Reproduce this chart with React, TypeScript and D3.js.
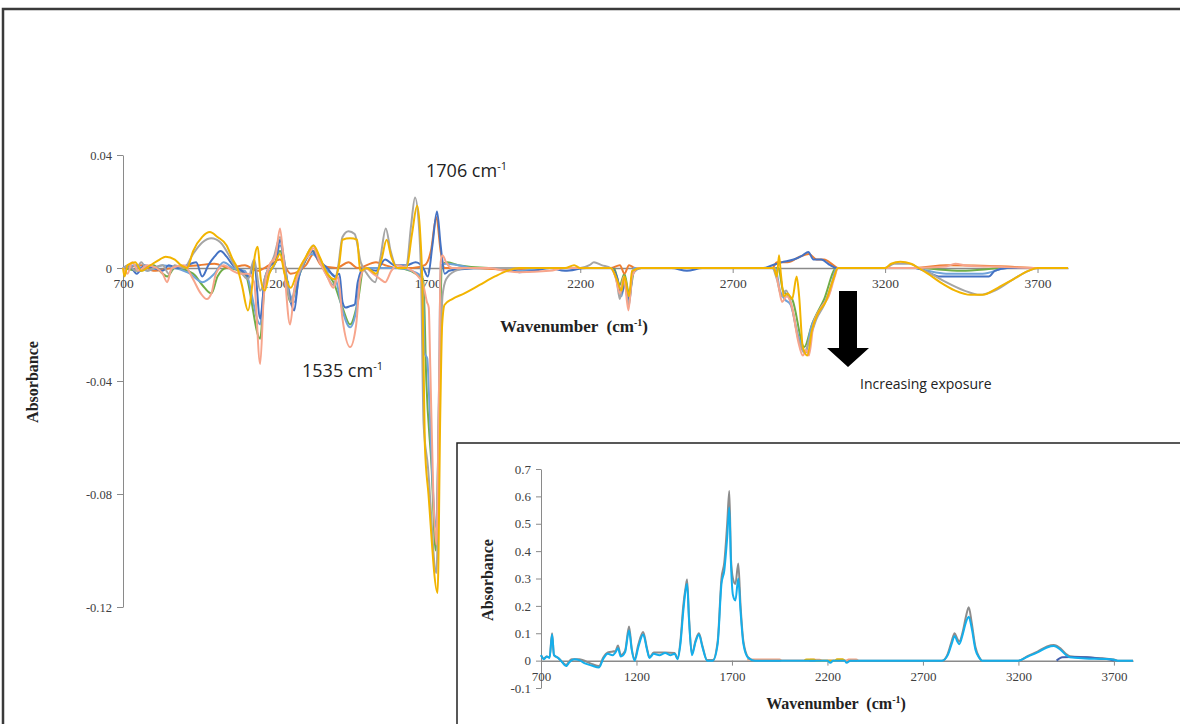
import React, { useEffect, useRef } from 'react';
import * as d3 from 'd3';

type Pt = [number, number];

// difference spectra (main panel), [wavenumber, absorbance]
const greySeries: Pt[] = [
  [700, 0], [720, 0.001], [740, -0.001], [760, 0.002], [780, -0.001], [800, 0], [830, 0.001], [850, -0.002], [870, 0.001],
  [900, 0], [930, 0.005], [960, 0.009], [990, 0.0105], [1020, 0.009], [1050, 0.004], [1070, 0], [1090, -0.002], [1110, -0.004],
  [1130, 0.003], [1150, -0.008], [1170, -0.002], [1195, 0.004], [1215, 0.011], [1230, 0.002], [1250, -0.012], [1270, -0.004],
  [1290, 0.001], [1310, 0.006], [1325, 0.008], [1345, 0.003], [1370, -0.003], [1390, -0.006], [1405, 0], [1420, 0.011],
  [1440, 0.013], [1460, 0.012], [1480, 0.002], [1500, -0.002], [1527, -0.005], [1545, 0.004], [1562, 0.014], [1578, 0.006],
  [1600, 0], [1630, 0.001], [1645, 0.015], [1658, 0.025], [1670, 0.016], [1678, -0.004], [1686, -0.055], [1700, -0.07],
  [1728, -0.108], [1740, -0.04], [1748, -0.01], [1760, -0.004], [1790, -0.001], [1830, 0], [2200, 0],
  [2230, 0.001], [2245, 0.002], [2270, 0.001], [2300, 0], [2320, -0.005], [2330, -0.011], [2342, -0.004], [2360, -0.013],
  [2372, -0.002], [2400, 0], [2830, 0], [2845, -0.004], [2860, -0.01], [2875, -0.008], [2890, -0.012], [2915, -0.025],
  [2935, -0.03], [2950, -0.026], [2975, -0.018], [3000, -0.013], [3030, -0.004], [3045, 0], [3200, 0], [3230, 0.0015],
  [3280, 0.0015], [3310, 0], [3350, -0.002], [3400, -0.005], [3460, -0.008], [3510, -0.0095], [3560, -0.008], [3620, -0.004],
  [3670, -0.001], [3700, 0], [3800, 0],
];

const goldSeries: Pt[] = [
  [700, 0], [705, -0.003], [715, 0.001], [740, 0.002], [760, -0.001], [790, 0.001], [820, 0.003], [840, 0.004], [870, 0.003],
  [890, 0.001], [910, 0], [930, 0.006], [960, 0.011], [985, 0.0127], [1010, 0.011], [1040, 0.008], [1060, 0.003], [1075, 0],
  [1090, -0.006], [1110, -0.015], [1122, -0.008], [1132, 0.004], [1142, 0.0075], [1152, -0.004], [1165, -0.008], [1180, -0.002],
  [1200, 0.002], [1215, 0.005], [1230, -0.002], [1250, -0.007], [1270, -0.002], [1300, 0.004], [1325, 0.008], [1345, 0.004],
  [1370, -0.002], [1395, -0.004], [1410, 0.002], [1420, 0.01], [1445, 0.0105], [1468, 0.01], [1478, -0.001], [1500, 0],
  [1530, -0.002], [1548, 0.003], [1565, 0.01], [1580, 0.004], [1600, 0], [1630, 0], [1648, 0.012], [1665, 0.022], [1675, 0.012],
  [1683, -0.01], [1690, -0.062], [1702, -0.08], [1732, -0.115], [1741, -0.05], [1747, -0.02], [1755, -0.013], [1780, -0.011],
  [1820, -0.009], [1870, -0.006], [1920, -0.003], [1960, -0.001], [2000, 0], [2150, 0], [2180, 0.001], [2200, 0], [2300, 0],
  [2320, -0.004], [2335, -0.008], [2345, -0.003], [2360, -0.01], [2370, -0.001], [2400, 0], [2835, 0], [2845, -0.003],
  [2852, 0.0045], [2858, -0.002], [2868, -0.01], [2880, -0.009], [2895, -0.011], [2910, -0.003], [2918, -0.01], [2930, -0.028],
  [2945, -0.031], [2960, -0.022], [2980, -0.016], [3005, -0.012], [3030, -0.004], [3045, 0], [3200, 0], [3220, 0.0015],
  [3250, 0.0022], [3285, 0.0015], [3310, 0], [3340, -0.002], [3380, -0.005], [3430, -0.008], [3480, -0.0095], [3520, -0.0095],
  [3570, -0.007], [3620, -0.004], [3670, -0.001], [3700, 0], [3800, 0],
];

const blueSeries: Pt[] = [
  [700, 0], [720, 0.001], [745, -0.002], [770, 0.001], [800, 0], [830, -0.001], [850, 0.001], [880, 0], [910, 0.001],
  [940, 0.002], [960, -0.003], [980, 0.001], [1000, 0.004], [1020, 0.006], [1040, 0.004], [1060, 0.001], [1090, -0.001],
  [1115, -0.003], [1130, 0.002], [1150, -0.018], [1165, -0.004], [1185, 0.001], [1200, 0.002], [1215, 0.01], [1230, 0.001],
  [1250, -0.012], [1262, -0.015], [1275, -0.004], [1295, 0.002], [1320, 0.006], [1340, 0.003], [1370, 0], [1395, -0.003],
  [1410, -0.002], [1420, -0.012], [1430, -0.014], [1445, -0.0135], [1460, -0.013], [1470, -0.005], [1490, 0], [1530, -0.001],
  [1560, 0.003], [1590, 0.001], [1630, 0.001], [1660, 0.002], [1685, 0], [1700, -0.003], [1715, 0.008], [1730, 0.02],
  [1742, 0.008], [1755, -0.002], [1770, -0.001], [1800, -0.0005], [1900, 0], [1960, 0], [2000, -0.0015], [2050, -0.001],
  [2100, 0], [2150, -0.001], [2220, 0], [2300, 0], [2320, -0.003], [2335, -0.009], [2348, -0.005], [2360, -0.011],
  [2372, -0.002], [2400, 0], [2500, 0], [2550, -0.001], [2600, 0], [2800, 0], [2830, 0.001], [2860, 0.002], [2900, 0.003],
  [2930, 0.0045], [2948, 0.0057], [2965, 0.003], [2990, 0.003], [3020, 0.001], [3040, 0], [3300, 0], [3330, -0.001],
  [3380, -0.003], [3450, -0.003], [3540, -0.003], [3560, -0.001], [3600, 0], [3800, 0],
];

const orangeSeries: Pt[] = [
  [700, 0], [760, 0.001], [800, -0.001], [860, 0], [950, 0.001], [1000, 0.0015], [1050, 0], [1100, 0.001], [1140, -0.001],
  [1180, 0.001], [1215, 0.003], [1250, -0.002], [1300, 0.001], [1325, 0.005], [1350, 0.001], [1400, 0], [1440, 0.002],
  [1470, 0], [1530, 0.002], [1560, 0.001], [1600, 0], [1650, 0], [1690, 0.001], [1710, 0.006], [1728, 0.018], [1742, 0.006],
  [1755, 0], [1850, 0], [1950, -0.0005], [2100, 0], [2300, 0], [2330, 0.001], [2345, -0.002], [2360, 0.001], [2380, 0],
  [2830, 0], [2845, 0.002], [2880, 0.002], [2920, 0.004], [2950, 0.005], [2975, 0.003], [3000, 0.003], [3030, 0.001],
  [3045, 0], [3300, 0], [3400, 0.001], [3600, 0.0005], [3700, 0], [3800, 0],
];

const salmonSeries: Pt[] = [
  [700, 0], [715, -0.002], [730, 0.002], [750, -0.001], [780, 0.001], [810, 0], [830, -0.002], [845, -0.005], [860, 0],
  [900, 0.001], [930, -0.004], [955, -0.009], [975, -0.011], [990, -0.009], [1005, -0.002], [1030, 0.001], [1060, -0.001],
  [1085, -0.002], [1110, -0.002], [1130, -0.005], [1150, -0.034], [1162, -0.01], [1180, 0.001], [1200, 0.004], [1215, 0.014],
  [1228, 0.001], [1248, -0.02], [1262, -0.008], [1285, 0.001], [1305, 0.004], [1325, 0.007], [1345, 0.002], [1370, -0.003],
  [1390, -0.007], [1405, -0.003], [1420, -0.018], [1445, -0.028], [1465, -0.02], [1478, -0.004], [1495, 0], [1520, -0.002],
  [1545, -0.004], [1560, -0.005], [1580, -0.001], [1600, 0.001], [1630, 0], [1660, -0.002], [1685, -0.006], [1697, -0.012],
  [1703, -0.014], [1708, -0.035], [1718, -0.08], [1728, -0.098], [1737, -0.04], [1742, 0.002], [1748, 0.0045], [1760, 0.002],
  [1780, 0], [1900, 0], [1950, -0.001], [2000, -0.0015], [2100, -0.001], [2150, 0], [2300, 0], [2315, -0.003], [2330, -0.009],
  [2343, -0.003], [2358, -0.015], [2370, -0.003], [2390, 0], [2835, 0], [2850, -0.006], [2862, -0.012], [2878, -0.01],
  [2895, -0.014], [2915, -0.026], [2930, -0.031], [2942, -0.029], [2950, -0.031], [2965, -0.02], [2990, -0.014], [3015, -0.01],
  [3035, -0.003], [3045, 0], [3300, 0], [3400, 0.0005], [3430, 0.0015], [3470, 0.0008], [3550, 0.0005], [3700, 0], [3800, 0],
];

const greenSeries: Pt[] = [
  [700, 0], [760, -0.001], [800, 0.001], [830, -0.002], [845, -0.003], [870, 0], [930, -0.002], [960, -0.006], [990, -0.009],
  [1010, -0.003], [1040, 0], [1100, -0.002], [1150, -0.025], [1165, -0.006], [1200, 0.002], [1215, 0.006], [1250, -0.012],
  [1280, -0.002], [1325, 0.006], [1370, -0.002], [1390, -0.005], [1420, -0.014], [1445, -0.02], [1470, -0.012], [1490, 0],
  [1600, 0], [1685, -0.004], [1695, -0.04], [1712, -0.07], [1726, -0.1], [1738, -0.04], [1746, 0.001], [1765, 0.002],
  [1800, 0.001], [1900, 0], [2310, 0], [2330, -0.006], [2345, -0.002], [2360, -0.009], [2380, 0], [2850, 0], [2865, -0.008],
  [2895, -0.011], [2935, -0.028], [2960, -0.02], [3000, -0.011], [3040, 0], [3300, 0], [3450, -0.001], [3600, 0], [3800, 0],
];

const lightBlueSeries: Pt[] = [
  [700, 0], [740, 0.001], [780, -0.001], [830, 0.001], [870, 0], [920, -0.002], [960, -0.005], [1000, -0.002], [1030, 0.002],
  [1060, 0], [1100, -0.001], [1150, -0.02], [1165, -0.004], [1200, 0.002], [1215, 0.008], [1250, -0.01], [1262, -0.012],
  [1280, -0.002], [1320, 0.005], [1370, -0.001], [1395, -0.003], [1420, -0.015], [1445, -0.021], [1465, -0.015], [1480, -0.002],
  [1500, 0], [1600, 0], [1683, -0.003], [1689, -0.03], [1698, -0.032], [1704, -0.045], [1715, -0.075], [1728, -0.092],
  [1737, -0.04], [1742, 0.001], [1760, 0.0015], [1800, 0.001], [1850, 0], [1950, 0], [2000, -0.001], [2100, 0], [2300, 0],
  [2320, -0.004], [2335, -0.01], [2348, -0.004], [2360, -0.012], [2375, 0], [2840, 0], [2855, -0.008], [2870, -0.011],
  [2890, -0.013], [2915, -0.024], [2940, -0.03], [2955, -0.022], [2985, -0.015], [3020, -0.008], [3040, 0], [3300, 0],
  [3340, -0.001], [3400, -0.002], [3520, -0.002], [3600, 0], [3800, 0],
];

// absorbance spectra (inset)
const insetGrey: Pt[] = [
  [700, 0.02], [715, 0.008], [730, 0.015], [745, 0.012], [758, 0.1], [768, 0.02], [790, 0.01], [831, -0.015], [860, 0.005],
  [900, 0.005], [965, -0.012], [1004, -0.02], [1025, 0.01], [1050, 0.03], [1090, 0.035], [1103, 0.055], [1118, 0.02],
  [1140, 0.035], [1161, 0.125], [1175, 0.045], [1190, 0.005], [1210, 0.06], [1235, 0.105], [1255, 0.045], [1268, 0.012],
  [1290, 0.03], [1350, 0.03], [1400, 0.028], [1415, 0.008], [1430, 0.07], [1445, 0.2], [1458, 0.27], [1465, 0.296],
  [1475, 0.16], [1490, 0.025], [1510, 0.075], [1527, 0.1], [1545, 0.055], [1570, 0.002], [1600, 0.002], [1625, 0.07],
  [1645, 0.3], [1660, 0.36], [1675, 0.5], [1686, 0.62], [1695, 0.37], [1705, 0.3], [1718, 0.28], [1733, 0.355],
  [1745, 0.2], [1760, 0.07], [1785, 0.012], [1820, 0], [2800, 0], [2830, 0.025], [2850, 0.07], [2866, 0.1], [2880, 0.08],
  [2890, 0.07], [2910, 0.11], [2925, 0.16], [2940, 0.195], [2955, 0.14], [2975, 0.05], [2995, 0.012], [3010, 0],
  [3200, 0], [3250, 0.017], [3300, 0.033], [3350, 0.052], [3385, 0.057], [3420, 0.045], [3450, 0.024], [3470, 0.016],
  [3550, 0.012], [3650, 0.008], [3700, 0.004], [3720, 0], [3800, 0],
];

const insetOrange: Pt[] = [
  [1780, 0.004], [1800, 0.004], [1950, 0.004], [1960, 0], [2100, 0], [2110, 0.003], [2160, 0.003], [2170, 0],
  [2300, 0], [2310, 0.004], [2350, 0.004], [2360, 0],
];

const insetGold: Pt[] = [
  [2080, 0], [2090, 0.004], [2130, 0.004], [2140, 0], [2240, 0], [2250, 0.005], [2280, 0.005], [2290, 0],
];

const insetBlue: Pt[] = [
  [3400, 0], [3430, 0.012], [3480, 0.013], [3560, 0.012], [3620, 0.008], [3680, 0.004], [3700, 0],
];

const insetCyan: Pt[] = [
  [700, 0.02], [715, 0.005], [730, 0.015], [745, 0.01], [758, 0.095], [768, 0.02], [790, 0.01], [810, -0.005],
  [831, -0.02], [850, -0.005], [875, 0.005], [900, 0.002], [930, -0.01], [965, -0.018], [1004, -0.025], [1025, 0.005],
  [1050, 0.025], [1075, 0.02], [1090, 0.03], [1103, 0.045], [1118, 0.015], [1140, 0.03], [1161, 0.11], [1175, 0.04],
  [1190, 0], [1210, 0.05], [1235, 0.095], [1255, 0.04], [1268, 0.01], [1290, 0.025], [1320, 0.02], [1350, 0.028],
  [1380, 0.02], [1400, 0.025], [1415, 0.005], [1430, 0.06], [1445, 0.18], [1458, 0.26], [1465, 0.28], [1475, 0.15],
  [1490, 0.02], [1510, 0.07], [1527, 0.095], [1545, 0.05], [1570, 0], [1600, 0], [1625, 0.06], [1645, 0.28], [1660, 0.33],
  [1675, 0.45], [1686, 0.56], [1695, 0.35], [1705, 0.24], [1718, 0.22], [1733, 0.3], [1745, 0.18], [1760, 0.06],
  [1785, 0.01], [1820, 0], [2200, 0], [2215, -0.008], [2230, 0], [2290, 0], [2300, -0.008], [2320, 0], [2800, 0],
  [2830, 0.02], [2850, 0.06], [2866, 0.09], [2880, 0.07], [2890, 0.06], [2910, 0.1], [2925, 0.14], [2940, 0.16],
  [2955, 0.12], [2975, 0.04], [2995, 0.01], [3010, 0], [3200, 0], [3250, 0.015], [3300, 0.03], [3350, 0.048],
  [3385, 0.053], [3420, 0.04], [3450, 0.02], [3470, 0.012], [3550, 0.008], [3650, 0.006], [3700, 0.003], [3720, 0],
  [3800, 0],
];

const xTicks = [700, 1200, 1700, 2200, 2700, 3200, 3700];
const mainYTicks = [0.04, 0, -0.04, -0.08, -0.12];
const insetYTicks = [0.7, 0.6, 0.5, 0.4, 0.3, 0.2, 0.1, 0, -0.1];

const App = () => {
  const svgRef = useRef<SVGSVGElement>(null);

  useEffect(() => {
    const svg = d3.select(svgRef.current);
    svg.selectAll('*').remove();

    const serif = 'Liberation Serif, Times New Roman, serif';
    const sans = 'Open Sans, Lato, sans-serif';
    // plain hyphen minus, like the original
    const fmt = (digits: number) => (d: d3.NumberValue) => (+d === 0 ? '0' : (+d).toFixed(digits));

    // outer frame
    svg.append('rect').attr('x', 3).attr('y', 9).attr('width', 1300).attr('height', 900)
      .attr('fill', 'none').attr('stroke', '#3a3a3a').attr('stroke-width', 2.5);

    // ---------- main chart ----------
    const x = d3.scaleLinear().domain([700, 3800]).range([123, 1068]);
    const y = d3.scaleLinear().domain([-0.12, 0.04]).range([607, 155]);

    const yAxis = svg.append('g').attr('transform', `translate(${x(700)},0)`)
      .call(d3.axisLeft(y).tickValues(mainYTicks).tickSize(6).tickSizeOuter(0).tickPadding(5).tickFormat(fmt(2)));
    yAxis.select('.domain').attr('stroke', '#8a8a8a');
    yAxis.selectAll('.tick line').attr('stroke', '#8a8a8a');
    yAxis.selectAll('text').attr('font-family', serif).attr('font-size', 12.5).attr('fill', '#404040');

    const xAxis = svg.append('g').attr('transform', `translate(0,${y(0)})`)
      .call(d3.axisBottom(x).tickValues(xTicks).tickSize(5).tickSizeOuter(0).tickPadding(5).tickFormat(d3.format('d')));
    xAxis.select('.domain').attr('stroke', '#8a8a8a').attr('stroke-width', 1.5);
    xAxis.selectAll('.tick line').attr('stroke', '#8a8a8a');
    xAxis.selectAll('text').attr('font-family', serif).attr('font-size', 13.5).attr('fill', '#404040');

    const line = d3.line<Pt>().x((d) => x(d[0])).y((d) => y(d[1])).curve(d3.curveMonotoneX);
    const mainSeries: [Pt[], string][] = [
      [greenSeries, '#70AD47'],
      [orangeSeries, '#ED7D31'],
      [lightBlueSeries, '#6FA3DA'],
      [blueSeries, '#4472C4'],
      [greySeries, '#A5A5A5'],
      [salmonSeries, '#F7A58C'],
      [goldSeries, '#F2B400'],
    ];
    svg.append('g').selectAll('path').data(mainSeries).join('path')
      .attr('d', (d) => line(d[0]))
      .attr('fill', 'none')
      .attr('stroke', (d) => d[1])
      .attr('stroke-width', 2)
      .attr('stroke-linejoin', 'round');

    // axis titles
    const wn = svg.append('text').attr('x', 574).attr('y', 332).attr('text-anchor', 'middle')
      .style('white-space', 'pre')
      .attr('font-family', serif).attr('font-weight', 'bold').attr('font-size', 17).attr('fill', '#222');
    wn.append('tspan').text('Wavenumber  (cm');
    wn.append('tspan').attr('dy', -6).attr('font-size', 10).text('-1');
    wn.append('tspan').attr('dy', 6).text(')');

    svg.append('text').attr('transform', 'translate(38,382) rotate(-90)').attr('text-anchor', 'middle')
      .attr('font-family', serif).attr('font-weight', 'bold').attr('font-size', 16).attr('fill', '#222')
      .text('Absorbance');

    // annotations
    const note = (tx: number, ty: number, label: string) => {
      const t = svg.append('text').attr('x', tx).attr('y', ty)
        .attr('font-family', sans).attr('font-size', 18).attr('fill', '#222');
      t.append('tspan').text(label + ' cm');
      t.append('tspan').attr('dy', -7).attr('font-size', 11).text('-1');
    };
    note(426, 177, '1706');
    note(302, 377, '1535');

    svg.append('path')
      .attr('d', 'M839,291 L857,291 L857,348 L869,348 L848,367 L827,348 L839,348 Z')
      .attr('fill', '#000');
    svg.append('text').attr('x', 860).attr('y', 389).attr('font-family', sans).attr('font-size', 14)
      .attr('fill', '#222').text('Increasing exposure');

    // ---------- inset ----------
    svg.append('rect').attr('x', 457).attr('y', 443).attr('width', 900).attr('height', 400)
      .attr('fill', '#fff').attr('stroke', '#222').attr('stroke-width', 1.5);

    const xi = d3.scaleLinear().domain([700, 3800]).range([541, 1133]);
    const yi = d3.scaleLinear().domain([-0.1, 0.7]).range([688, 469]);

    const yAxisI = svg.append('g').attr('transform', `translate(${xi(700)},0)`)
      .call(d3.axisLeft(yi).tickValues(insetYTicks).tickSize(5).tickSizeOuter(0).tickPadding(5).tickFormat(fmt(1)));
    yAxisI.select('.domain').attr('stroke', '#8a8a8a');
    yAxisI.selectAll('.tick line').attr('stroke', '#8a8a8a');
    yAxisI.selectAll('text').attr('font-family', serif).attr('font-size', 13).attr('fill', '#404040');

    const xAxisI = svg.append('g').attr('transform', `translate(0,${yi(0)})`)
      .call(d3.axisBottom(xi).tickValues(xTicks).tickSize(5).tickSizeOuter(0).tickPadding(6).tickFormat(d3.format('d')));
    xAxisI.select('.domain').attr('stroke', '#8a8a8a').attr('stroke-width', 1.5);
    xAxisI.selectAll('.tick line').attr('stroke', '#8a8a8a');
    xAxisI.selectAll('text').attr('font-family', serif).attr('font-size', 13).attr('fill', '#404040');

    const lineI = d3.line<Pt>().x((d) => xi(d[0])).y((d) => yi(d[1])).curve(d3.curveMonotoneX);
    const insetSeries: [Pt[], string][] = [
      [insetGrey, '#8C8C8C'],
      [insetOrange, '#F4A07C'],
      [insetGold, '#E8B000'],
      [insetBlue, '#4461B0'],
      [insetCyan, '#14AEEB'],
    ];
    svg.append('g').selectAll('path').data(insetSeries).join('path')
      .attr('d', (d) => lineI(d[0]))
      .attr('fill', 'none')
      .attr('stroke', (d) => d[1])
      .attr('stroke-width', 2)
      .attr('stroke-linejoin', 'round');

    const wnI = svg.append('text').attr('x', 836).attr('y', 709).attr('text-anchor', 'middle')
      .style('white-space', 'pre')
      .attr('font-family', serif).attr('font-weight', 'bold').attr('font-size', 16).attr('fill', '#222');
    wnI.append('tspan').text('Wavenumber  (cm');
    wnI.append('tspan').attr('dy', -6).attr('font-size', 10).text('-1');
    wnI.append('tspan').attr('dy', 6).text(')');

    svg.append('text').attr('transform', 'translate(493,580) rotate(-90)').attr('text-anchor', 'middle')
      .attr('font-family', serif).attr('font-weight', 'bold').attr('font-size', 16).attr('fill', '#222')
      .text('Absorbance');
  }, []);

  return (
    <svg ref={svgRef} width={1180} height={724}
      style={{ position: 'absolute', left: 0, top: 0, background: '#fff' }} />
  );
};

export default App;
